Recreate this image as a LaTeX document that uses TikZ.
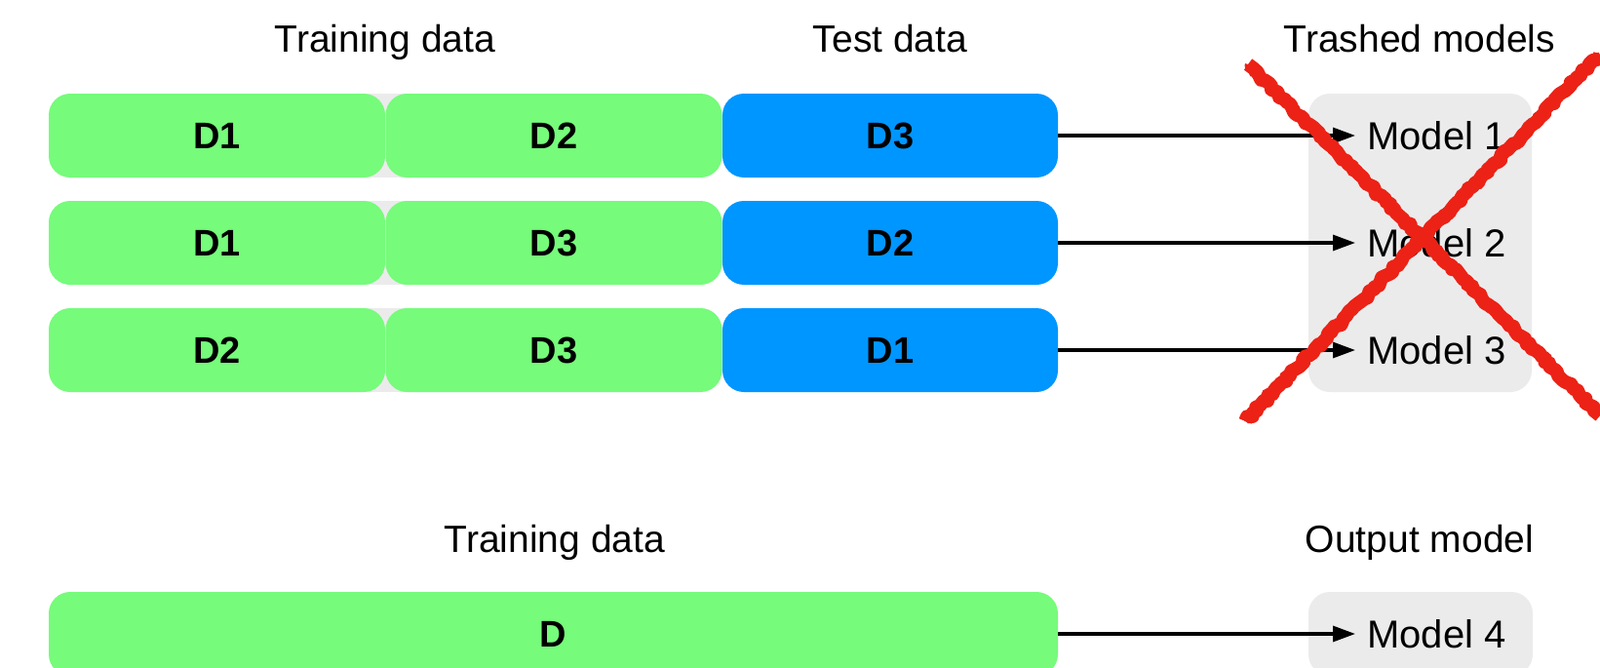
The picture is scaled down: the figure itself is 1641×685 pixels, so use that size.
\documentclass[tikz,border=0pt]{standalone}
\usepackage{fontspec}
\setmainfont{Liberation Sans}
\usetikzlibrary{arrows.meta,decorations.pathmorphing}
\definecolor{dgreen}{RGB}{118,251,123}
\definecolor{dblue}{RGB}{0,150,255}
\definecolor{lgrey}{RGB}{235,235,235}
\definecolor{xred}{RGB}{236,34,22}
\tikzset{
  box/.style={minimum width=345pt, minimum height=86pt, inner sep=0pt, rounded corners=22pt, font=\fontsize{38}{45}\selectfont\bfseries, text=black},
  train/.style={box, fill=dgreen},
  testbox/.style={box, fill=dblue},
  title/.style={anchor=base, font=\fontsize{39}{47}\selectfont, inner sep=0pt},
  model/.style={anchor=base west, font=\fontsize{40}{48}\selectfont, inner xsep=12pt, inner ysep=0pt},
  holder/.style={fill=lgrey, rounded corners=22pt, inner sep=0pt},
  arr/.style={line width=3.2pt, -{Triangle[length=23pt,width=16pt]}},
  crossline/.style={draw=xred, line width=14pt, line cap=butt, line join=round, decorate, decoration={random steps, segment length=4pt, amplitude=2pt}},
  crossthin/.style={draw=xred, line width=6pt, line cap=butt, line join=round, decorate, decoration={random steps, segment length=3pt, amplitude=4pt}},
}
\begin{document}
\begin{tikzpicture}[x=1pt,y=-1pt]
\useasboundingbox (0,0) rectangle (1641,685);
\fill[white] (0,0) rectangle (1641,685);
\clip (0,0) rectangle (1641,685);

% titles
\node[title] (ttrain) at (395,54) {Training data};
\node[title] (ttest) at (913,54) {Test data};
\node[title] (ttrash) at (1456,54) {Trashed models};
\node[title] (btrain) at (569,566) {Training data};
\node[title] (bout) at (1456,566) {Output model};

% grey strips behind the training pairs
\fill[lgrey] (365,96) rectangle (425,182);
\fill[lgrey] (365,206) rectangle (425,292);
\fill[lgrey] (365,316) rectangle (425,402);

% holders
\node[holder, minimum width=229pt, minimum height=306pt] (trash) at (1456.5,249) {};
\node[holder, minimum width=230pt, minimum height=86pt] (outholder) at (1457,650) {};

% row 1
\node[train] (r1a) at (222.5,139) {D1};
\node[train] (r1b) at (568,139) {D2};
\node[testbox, minimum width=344pt] (r1c) at (913,139) {D3};
% row 2
\node[train] (r2a) at (222.5,249) {D1};
\node[train] (r2b) at (568,249) {D3};
\node[testbox, minimum width=344pt] (r2c) at (913,249) {D2};
% row 3
\node[train] (r3a) at (222.5,359) {D2};
\node[train] (r3b) at (568,359) {D3};
\node[testbox, minimum width=344pt] (r3c) at (913,359) {D1};
% bottom
\node[train, minimum width=1035pt] (dall) at (567.5,650) {D};

% models
\node[model] (m1) at (1390,153) {Model 1};
\node[model] (m2) at (1390,263) {Model 2};
\node[model] (m3) at (1390,373) {Model 3};
\node[model] (m4) at (1390,664) {Model 4};

% arrows
\draw[arr] (r1c.east) -- (r1c.east -| m1.west);
\draw[arr] (r2c.east) -- (r2c.east -| m2.west);
\draw[arr] (r3c.east) -- (r3c.east -| m3.west);
\draw[arr] (dall.east) -- (dall.east -| m4.west);

% red cross
\coordinate (xa1) at (1280,66);
\coordinate (xa2) at (1641,426);
\coordinate (xb1) at (1641,56);
\coordinate (xb2) at (1277,432);
\draw[crossline] (xa1) -- (xa2);
\draw[crossline] (xb1) -- (xb2);
\draw[crossthin] (xa1) -- (xa2);
\draw[crossthin] (xb1) -- (xb2);
\end{tikzpicture}
\end{document}
